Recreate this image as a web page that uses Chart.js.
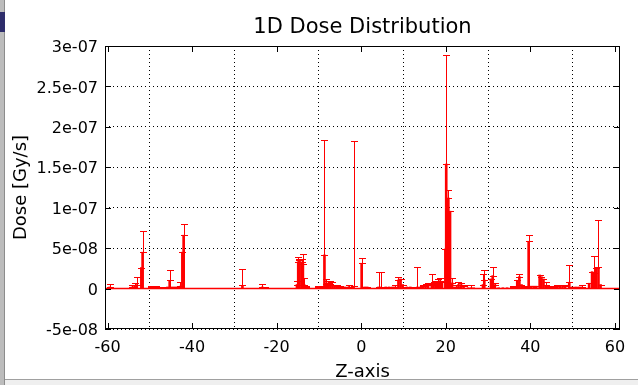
<!DOCTYPE html>
<html>
<head>
<meta charset="utf-8">
<title>1D Dose Distribution</title>
<script src="https://cdn.jsdelivr.net/npm/chart.js@4.4.1/dist/chart.umd.min.js"></script>
<style>
  html, body { margin: 0; padding: 0; background: #fff; }
  #wrap { position: relative; width: 638px; height: 385px; overflow: hidden; }
  #plot { display: block; }
  .edge { position: absolute; left: 0; top: 0; width: 4px; height: 385px; background: #bcbcbc; border-right: 1px solid #8c8c8c; }
  .tab { position: absolute; left: 0; top: 12px; width: 5px; height: 20px; background: #2e2d6b; }
  .status { position: absolute; left: 5px; top: 379px; width: 633px; height: 6px; background: #efefef; border-top: 1px solid #a0a0a0; }
</style>
</head>
<body>
<div id="wrap">
  <canvas id="plot" width="638" height="385"></canvas>
  <div class="edge"></div><div class="tab"></div><div class="status"></div>
</div>
<script>
// bin centres along z, dose per bin [Gy/s] and its error
const zBins = [
  -59.5, -54.2, -53.6, -53.1, -52.0, -51.7, -49.8, -49.2, -48.6, -46.9,
  -46.3, -45.8, -45.3, -44.7, -44.1, -43.5, -42.8, -42.3, -42.0, -28.1,
  -23.4, -22.8, -15.2, -14.9, -14.6, -14.1, -13.8, -13.5, -13.1, -10.3,
  -9.7, -8.7, -8.3, -7.8, -7.3, -6.8, -6.3, -5.7, -5.1, -4.4,
  -3.8, -2.9, -1.8, 0.1, 0.8, 1.4, 4.1, 4.6, 5.8, 6.6,
  7.4, 8.0, 8.8, 9.3, 9.8, 10.8, 11.6, 13.3, 14.0, 14.6,
  15.2, 15.8, 16.7, 17.1, 17.6, 18.1, 18.6, 19.1, 19.9, 20.1,
  20.6, 21.0, 21.5, 22.3, 23.0, 23.6, 24.2, 25.3, 26.0, 26.6,
  28.8, 29.1, 30.7, 31.1, 31.6, 32.5, 33.5, 34.5, 35.8, 36.3,
  36.9, 37.4, 37.9, 38.5, 39.0, 39.6, 40.2, 40.8, 41.4, 42.2,
  42.6, 43.1, 43.6, 44.2, 44.8, 45.5, 46.4, 47.0, 47.6, 48.2,
  49.2, 49.9, 50.7, 51.4, 52.1, 53.9, 54.6, 55.0, 55.5, 56.1,
  56.6
];
const dose = [
  2e-9, 2e-9, 4e-9, 5e-9, 26e-9, 45e-9, 2e-9, 2.5e-9, 2e-9, 1.5e-9,
  1.5e-9, 2e-9, 10e-9, 2e-9, 2e-9, 2e-9, 3e-9, 45e-9, 66e-9, 4e-9,
  2e-9, 1.5e-9, 5e-9, 33.3e-9, 35.4e-9, 33e-9, 31e-9, 5e-9, 2e-9, 2e-9,
  2e-9, 41.6e-9, 6e-9, 7e-9, 6e-9, 5e-9, 4e-9, 3e-9, 2e-9, 2e-9,
  2e-9, 2.5e-9, 3e-9, 31.3e-9, 2e-9, 2e-9, 2e-9, 2e-9, 2e-9, 2e-9,
  2e-9, 2e-9, 10.6e-9, 11.9e-9, 5e-9, 2e-9, 2e-9, 2e-9, 2e-9, 3e-9,
  4e-9, 5e-9, 6e-9, 5e-9, 7e-9, 9e-9, 9.8e-9, 7.8e-9, 49e-9, 154e-9,
  112e-9, 95.7e-9, 7e-9, 2e-9, 5e-9, 5e-9, 3e-9, 1e-9, 1e-9, 1e-9,
  5e-9, 10.6e-9, 11.9e-9, 16e-9, 5e-9, 1e-9, 1e-9, 1e-9, 2e-9, 2e-9,
  10.3e-9, 14.7e-9, 5e-9, 2e-9, 2e-9, 58.5e-9, 3e-9, 3e-9, 3e-9, 16.8e-9,
  14.7e-9, 11.9e-9, 4e-9, 2e-9, 2e-9, 2e-9, 3e-9, 4e-9, 4e-9, 3e-9,
  7.8e-9, 2e-9, 2e-9, 2e-9, 2e-9, 6.6e-9, 20.9e-9, 18.9e-9, 25.5e-9, 26.3e-9,
  5e-9
];
const doseErr = [
  3.3e-9, 2e-9, 3e-9, 9e-9, 0, 26e-9, 1.5e-9, 1e-9, 1e-9, 0,
  0, 0, 13e-9, 0, 0, 0, 5e-9, 0, 13.6e-9, 20e-9,
  3.3e-9, 1e-9, 4.8e-9, 5.4e-9, 1.2e-9, 3.6e-9, 11.4e-9, 7.7e-9, 1e-9, 1e-9,
  1e-9, 142e-9, 5.5e-9, 2e-9, 3e-9, 3e-9, 1e-9, 1e-9, 1e-9, 0,
  0, 2e-9, 179e-9, 6.2e-9, 0, 0, 18.5e-9, 19e-9, 0, 0,
  0, 2.8e-9, 3.4e-9, 0, 0, 0, 0, 24.3e-9, 0, 1e-9,
  2e-9, 2e-9, 11.7e-9, 3e-9, 2e-9, 3e-9, 2.9e-9, 0, 0, 135e-9,
  10e-9, 0, 6e-9, 2.5e-9, 3.5e-9, 2e-9, 1e-9, 0, 3.8e-9, 0,
  13e-9, 12.4e-9, 0, 10.3e-9, 2e-9, 0, 0, 0, 1e-9, 1e-9,
  0, 3e-9, 0, 1.5e-9, 1.5e-9, 7.8e-9, 0, 0, 0, 0,
  0, 0, 3.8e-9, 1.6e-9, 1.6e-9, 1.6e-9, 1e-9, 1e-9, 1e-9, 1e-9,
  21e-9, 0, 0, 0, 2.5e-9, 0, 0, 21.1e-9, 0, 58.2e-9,
  0
];
const zRange = [-60.6, 61.2];
const xTicks = [-60, -40, -20, 0, 20, 40, 60];
const yTicks = [-5e-8, 0, 5e-8, 1e-7, 1.5e-7, 2e-7, 2.5e-7, 3e-7];
const yTickLabels = ['-5e-08', '0', '5e-08', '1e-07', '1.5e-07', '2e-07', '2.5e-07', '3e-07'];

const RED = '#ff0000';
const FONT = 'DejaVu Sans';

// vertical error bars with caps, placed through the chart scales
const errorBars = {
  id: 'errorBars',
  afterDatasetsDraw(chart) {
    const { ctx, scales: { x, y } } = chart;
    ctx.save();
    ctx.strokeStyle = RED;
    ctx.lineWidth = 1;
    ctx.beginPath();
    zBins.forEach((z, i) => {
      const px = Math.round(x.getPixelForValue(z)) + 0.5;
      const lo = Math.round(y.getPixelForValue(dose[i])) + 0.5;
      const hi = Math.round(y.getPixelForValue(dose[i] + doseErr[i])) + 0.5;
      ctx.moveTo(px - 3.5, lo); ctx.lineTo(px + 3.5, lo);
      if (doseErr[i] > 0) {
        ctx.moveTo(px, lo); ctx.lineTo(px, hi);
        ctx.moveTo(px - 3.5, hi); ctx.lineTo(px + 3.5, hi);
      }
    });
    ctx.stroke();
    ctx.restore();
  }
};

// box border with inward tick marks on all four sides
const frame = {
  id: 'frame',
  afterDraw(chart) {
    const { ctx, chartArea: a, scales: { x, y } } = chart;
    ctx.save();
    ctx.strokeStyle = '#000';
    ctx.lineWidth = 1;
    ctx.strokeRect(a.left + 0.5, a.top + 0.5, a.width - 1, a.height - 1);
    ctx.beginPath();
    xTicks.forEach(v => {
      const p = Math.round(x.getPixelForValue(v)) + 0.5;
      ctx.moveTo(p, a.bottom); ctx.lineTo(p, a.bottom - 6);
      ctx.moveTo(p, a.top); ctx.lineTo(p, a.top + 6);
    });
    yTicks.forEach(v => {
      const p = Math.round(y.getPixelForValue(v)) + 0.5;
      ctx.moveTo(a.left, p); ctx.lineTo(a.left + 6, p);
      ctx.moveTo(a.right, p); ctx.lineTo(a.right - 6, p);
    });
    ctx.stroke();
    ctx.restore();
  }
};

new Chart(document.getElementById('plot'), {
  type: 'bar',
  data: {
    datasets: [
      {
        type: 'bar',
        data: zBins.map((z, i) => ({ x: z, y: dose[i] })),
        backgroundColor: RED,
        borderWidth: 0,
        barThickness: 2
      },
      {
        type: 'line',
        data: [{ x: zRange[0], y: 0 }, { x: zRange[1], y: 0 }],
        borderColor: RED,
        borderWidth: 1.5,
        pointRadius: 0
      }
    ]
  },
  options: {
    responsive: false,
    animation: false,
    layout: { padding: { right: 18 } },
    plugins: {
      legend: { display: false },
      tooltip: { enabled: false },
      title: {
        display: true,
        fullSize: false,
        text: '1D Dose Distribution',
        color: '#000',
        font: { family: FONT, size: 21, weight: 'normal', lineHeight: 1.2 },
        padding: { top: 15, bottom: 5.8 }
      }
    },
    scales: {
      x: {
        type: 'linear',
        min: zRange[0],
        max: zRange[1],
        offset: false,
        afterFit: s => { s.height = 56; },
        afterBuildTicks: s => { s.ticks = xTicks.map(v => ({ value: v })); },
        grid: { color: '#000', lineWidth: 1, drawTicks: false },
        border: { display: false, dash: [1, 3] },
        ticks: { color: '#000', padding: 9, maxRotation: 0, font: { family: FONT, size: 16 } },
        title: {
          display: true,
          text: 'Z-axis',
          color: '#000',
          font: { family: FONT, size: 18, lineHeight: 1 },
          padding: { top: 0, bottom: 3.5 }
        }
      },
      y: {
        min: yTicks[0],
        max: yTicks[yTicks.length - 1],
        afterFit: s => { s.width = 105; },
        afterBuildTicks: s => { s.ticks = yTicks.map(v => ({ value: v })); },
        grid: { color: '#000', lineWidth: 1, drawTicks: false },
        border: { display: false, dash: [1, 3] },
        ticks: {
          color: '#000',
          padding: 7,
          labelOffset: 2,
          font: { family: FONT, size: 16 },
          callback: (v, i) => yTickLabels[i]
        },
        title: {
          display: true,
          text: 'Dose [Gy/s]',
          color: '#000',
          font: { family: FONT, size: 18 },
          padding: { top: 11, bottom: 0 }
        }
      }
    }
  },
  plugins: [errorBars, frame]
});
</script>
</body>
</html>
